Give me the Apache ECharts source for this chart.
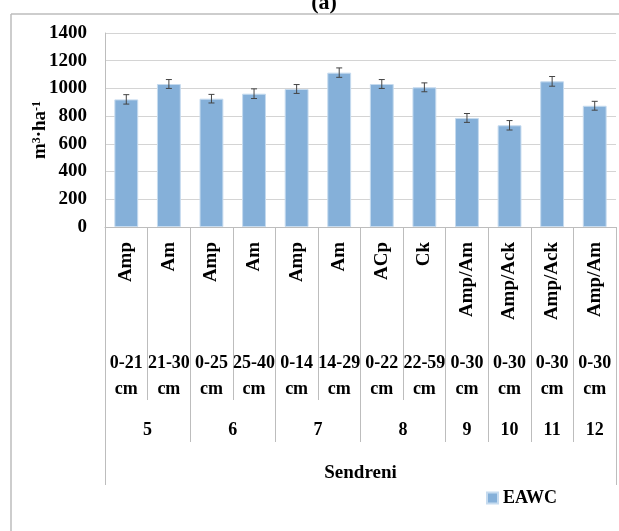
<!DOCTYPE html>
<html><head><meta charset="utf-8">
<script src="https://cdn.jsdelivr.net/npm/echarts@6/dist/echarts.min.js"></script>
<style>html,body{margin:0;padding:0;background:#fff}#c{width:619px;height:531px}</style>
</head><body><div id="c"></div>
<script>
const horizons = ['Amp','Am','Amp','Am','Amp','Am','ACp','Ck','Amp/Am','Amp/Ack','Amp/Ack','Amp/Am'];
const depths = ['0-21\ncm','21-30\ncm','0-25\ncm','25-40\ncm','0-14\ncm','14-29\ncm','0-22\ncm','22-59\ncm','0-30\ncm','0-30\ncm','0-30\ncm','0-30\ncm'];
const profiles = ['5','6','7','8','9','10','11','12'];
const profileSizes = [2,2,2,2,1,1,1,1];
const siteName = 'Sendreni';
const eawc = [921,1032,926,962,996,1114,1032,1008,787,734,1051,875];
const eawcErr = [34,32,31,35,32,34,32,32,32,34,35,32];
const yTicks = {min:0, max:1400, interval:200};

const FONT = '"Liberation Serif", "Times New Roman", serif';
const groupStarts = []; const groupCenters = {};
let acc = 0;
profileSizes.forEach((s,i)=>{ groupStarts.push(acc); groupCenters[(acc + s/2).toFixed(1)] = profiles[i]; acc += s; });

const chart = echarts.init(document.getElementById('c'));
const lbl = (size)=>({fontFamily: FONT, fontWeight:'bold', fontSize:size, color:'#000'});
chart.setOption({
  animation:false,
  title:{text:'(a)', left:319, textAlign:'center', top:-13, textStyle:lbl(22)},
  grid:{left:105, right:1, top:33, bottom:304},
  legend:{data:['EAWC'], left:486, top:489, padding:0, itemWidth:11, itemHeight:11, itemGap:6, icon:'rect',
    textStyle:lbl(18)},
  graphic:[
    {type:'line', shape:{x1:11, y1:14, x2:619, y2:14}, style:{stroke:'#bdbdbd', lineWidth:1.5}},
    {type:'line', shape:{x1:11, y1:14, x2:11, y2:531}, style:{stroke:'#bdbdbd', lineWidth:1.5}}
  ],
  xAxis:[
    {type:'category', data:horizons, position:'bottom',
      axisLine:{lineStyle:{color:'#bdbdbd', width:1}},
      axisTick:{show:true, interval:0, length:173, lineStyle:{color:'#bdbdbd'}},
      axisLabel:Object.assign({interval:0, rotate:90, margin:15}, lbl(19)),
      name:siteName, nameLocation:'middle', nameGap:237, nameMoveOverlap:false, nameTextStyle:lbl(19)},
    {type:'category', data:depths, position:'bottom',
      axisLine:{show:false},
      axisTick:{show:true, interval:(i)=>groupStarts.indexOf(i) >= 0, length:215, lineStyle:{color:'#bdbdbd'}},
      axisLabel:Object.assign({interval:0, margin:123, lineHeight:26}, lbl(18))},
    {type:'category', data:horizons.map(()=>''), position:'bottom',
      axisLine:{show:false},
      axisTick:{show:true, interval:(i)=>i===0, length:258, lineStyle:{color:'#bdbdbd'}},
      axisLabel:{show:false}},
    {type:'value', min:0, max:horizons.length, interval:0.5, position:'bottom',
      axisLine:{show:false}, axisTick:{show:false}, splitLine:{show:false},
      axisLabel:Object.assign({margin:194, showMinLabel:true, showMaxLabel:true,
        formatter:(v)=> groupCenters[Number(v).toFixed(1)] || ''}, lbl(18))}
  ],
  yAxis:{type:'value', min:yTicks.min, max:yTicks.max, interval:yTicks.interval,
    axisLine:{show:true, lineStyle:{color:'#bdbdbd'}}, axisTick:{show:false},
    splitLine:{lineStyle:{color:'#d4d4d4', width:1}},
    axisLabel:Object.assign({margin:18, formatter:(v)=>String(v)}, lbl(19)),
    name:'{a|m}{s|3}{a|·ha}{s|-1}', nameLocation:'middle', nameGap:55, nameRotate:90, nameMoveOverlap:false,
    nameTextStyle:{rich:{a:lbl(19), s:Object.assign({verticalAlign:'top'}, lbl(12))}}},
  series:[
    {name:'EAWC', type:'bar', data:eawc, barWidth:'56%', xAxisIndex:0,
      itemStyle:{color:'#85b0d9', borderColor:'#c6dbef', borderWidth:1}},
    {type:'custom', xAxisIndex:0, yAxisIndex:0, z:5,
      data:eawc.map((v,i)=>[i, v, eawcErr[i]]),
      encode:{x:0, y:1},
      renderItem:function(params, api){
        const i = api.value(0), v = api.value(1), e = api.value(2);
        const hi = api.coord([i, v+e]), lo = api.coord([i, v-e]);
        const w = 3, st = {stroke:'#444', lineWidth:1};
        return {type:'group', children:[
          {type:'line', shape:{x1:hi[0], y1:hi[1], x2:lo[0], y2:lo[1]}, style:st},
          {type:'line', shape:{x1:hi[0]-w, y1:hi[1], x2:hi[0]+w, y2:hi[1]}, style:st},
          {type:'line', shape:{x1:lo[0]-w, y1:lo[1], x2:lo[0]+w, y2:lo[1]}, style:st}
        ]};
      }}
  ]
});
</script></body></html>
